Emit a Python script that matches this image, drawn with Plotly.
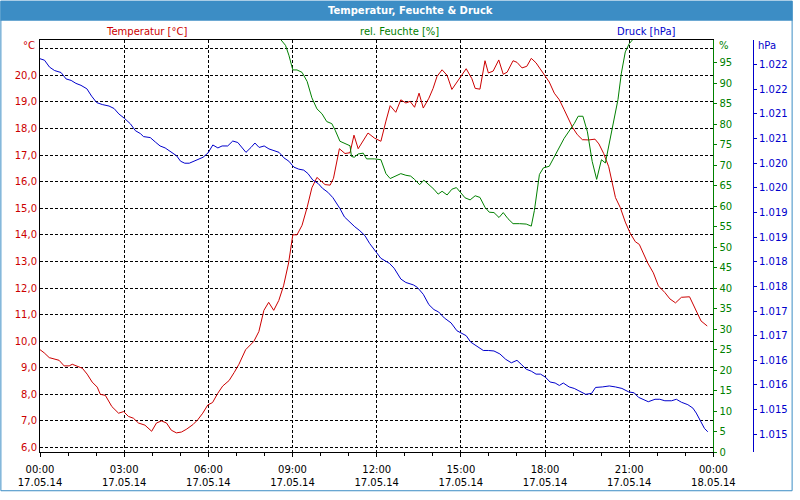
import pandas as pd
import plotly.graph_objects as go

# ---------------- data ----------------
temp_hours = [
    0, 0.15, 0.33, 0.56, 0.68, 0.86, 1.04, 1.15, 1.33, 1.51,
    1.68, 1.86, 2.04, 2.15, 2.33, 2.56, 2.8, 2.98, 3.15, 3.33,
    3.51, 3.74, 3.98, 4.15, 4.33, 4.51, 4.68, 4.86, 5.04, 5.21,
    5.45, 5.62, 5.8, 5.98, 6.15, 6.33, 6.51, 6.74, 6.92, 7.09,
    7.33, 7.62, 7.8, 7.98, 8.15, 8.33, 8.51, 8.68, 8.86, 9.01,
    9.16, 9.34, 9.52, 9.69, 9.87, 10.05, 10.16, 10.34, 10.46, 10.67,
    10.87, 11.05, 11.19, 11.34, 11.69, 11.92, 12.15, 12.33, 12.48, 12.68,
    12.86, 13.04, 13.19, 13.35, 13.51, 13.66, 13.86, 14.01, 14.15, 14.33,
    14.51, 14.68, 14.92, 15.19, 15.39, 15.51, 15.68, 15.86, 15.98, 16.15,
    16.35, 16.51, 16.65, 16.86, 17.0, 17.18, 17.35, 17.51, 17.68, 17.86,
    18.01, 18.15, 18.33, 18.51, 18.68, 18.86, 18.98, 19.15, 19.33, 19.56,
    19.78, 19.92, 20.09, 20.27, 20.39, 20.51, 20.68, 20.86, 21.04, 21.22,
    21.36, 21.51, 21.66, 21.86, 22.04, 22.27, 22.45, 22.65, 22.86, 23.15,
    23.33, 23.56, 23.78,
]
temperature = [
    9.68, 9.56, 9.38, 9.32, 9.28, 9.07, 9.07, 9.13, 9.06, 8.98,
    8.76, 8.46, 8.27, 8.0, 7.96, 7.54, 7.29, 7.35, 7.17, 7.1,
    6.92, 6.84, 6.61, 6.92, 7.0, 6.92, 6.65, 6.55, 6.58, 6.68,
    6.86, 7.04, 7.29, 7.6, 7.69, 8.03, 8.31, 8.52, 8.82, 9.13,
    9.68, 9.99, 10.36, 11.16, 11.46, 11.16, 11.53, 12.08, 12.94, 14.0,
    14.0, 14.36, 15.03, 15.77, 16.16, 16.0, 15.89, 15.87, 16.13, 17.24,
    17.06, 17.09, 17.75, 17.24, 17.83, 17.64, 17.52, 18.28, 18.86, 18.61,
    19.08, 18.96, 19.02, 18.8, 19.33, 18.77, 19.14, 19.51, 19.96, 20.21,
    20.0, 19.47, 19.82, 20.25, 19.88, 19.51, 19.48, 20.55, 20.09, 20.16,
    20.58, 20.04, 20.12, 20.55, 20.49, 20.28, 20.34, 20.64, 20.47, 20.18,
    19.98, 19.75, 19.33, 19.08, 18.71, 18.28, 18.04, 17.77, 17.58, 17.57,
    17.6, 17.42, 17.06, 16.56, 16.01, 15.4, 15.03, 14.48, 14.05, 13.74,
    13.64, 13.31, 12.94, 12.57, 12.08, 11.83, 11.59, 11.44, 11.65, 11.67,
    11.28, 10.76, 10.57,
]

hum_hours = [
    8.45, 8.58, 8.75, 8.87, 9.01, 9.16, 9.34, 9.52, 9.69, 9.87,
    10.05, 10.22, 10.4, 10.52, 10.69, 10.87, 11.05, 11.1, 11.2, 11.34,
    11.52, 11.64, 11.92, 12.15, 12.33, 12.48, 12.68, 12.86, 13.04, 13.21,
    13.35, 13.53, 13.68, 13.86, 14.04, 14.19, 14.33, 14.51, 14.68, 14.84,
    15.0, 15.15, 15.33, 15.51, 15.68, 15.86, 16.01, 16.18, 16.36, 16.51,
    16.68, 16.86, 17.09, 17.33, 17.51, 17.62, 17.8, 17.94, 18.15, 18.33,
    18.51, 18.68, 18.86, 19.04, 19.18, 19.35, 19.51, 19.68, 19.84, 20.01,
    20.15, 20.29, 20.45, 20.6, 20.72, 20.86, 21.0, 21.15, 21.3,
]
humidity = [
    102, 100.6, 99.2, 96.8, 93.2, 93.2, 92.6, 90.4, 86.4, 83.7,
    82.5, 80.6, 80.1, 78.5, 75.8, 75.3, 74.7, 72.1, 71.9, 72.7,
    72.9, 71.5, 71.5, 71.3, 67.9, 66.7, 67.3, 67.9, 67.5, 67.3,
    66.5, 65.2, 66.3, 65.3, 64.1, 62.9, 63.6, 62.7, 64.1, 64.5,
    63.3, 62.0, 61.5, 62.5, 62.1, 59.7, 58.5, 58.4, 57.2, 58.4,
    56.9, 55.7, 55.7, 55.6, 55.1, 58.9, 67.7, 69.3, 69.7, 72.1,
    74.5, 76.5, 78.3, 80.1, 81.9, 81.9, 78.1, 70.9, 66.5, 71.3,
    70.5, 75.3, 80.5, 86.0, 92.4, 97.6, 99.6, 100.8, 102,
]

pres_hours = [
    0, 0.16, 0.34, 0.52, 0.75, 0.93, 1.11, 1.28, 1.46, 1.67,
    1.84, 2.02, 2.22, 2.46, 2.64, 2.81, 3.01, 3.22, 3.4, 3.58,
    3.69, 3.93, 4.11, 4.28, 4.46, 4.69, 4.87, 5.01, 5.16, 5.32,
    5.48, 5.64, 5.81, 5.99, 6.16, 6.34, 6.49, 6.69, 6.87, 7.05,
    7.19, 7.34, 7.52, 7.66, 7.81, 7.99, 8.16, 8.34, 8.52, 8.69,
    8.87, 9.05, 9.22, 9.4, 9.55, 9.72, 9.91, 10.07, 10.26, 10.44,
    10.58, 10.69, 10.85, 11.05, 11.22, 11.4, 11.58, 11.75, 11.98, 12.15,
    12.45, 12.62, 12.86, 13.04, 13.31, 13.45, 13.66, 13.86, 14.04, 14.21,
    14.41, 14.65, 14.86, 15.04, 15.19, 15.35, 15.56, 15.8, 15.98, 16.18,
    16.39, 16.6, 16.8, 17.0, 17.15, 17.33, 17.51, 17.68, 17.84, 18.01,
    18.18, 18.36, 18.51, 18.65, 18.86, 19.04, 19.21, 19.45, 19.66, 19.8,
    20.04, 20.29, 20.51, 20.74, 20.98, 21.18, 21.33, 21.51, 21.68, 21.92,
    22.09, 22.27, 22.51, 22.68, 22.86, 23.09, 23.27, 23.39, 23.56, 23.68,
    23.8,
]
pressure = [
    1022.37, 1022.34, 1022.20, 1022.13, 1022.09, 1021.96, 1021.93, 1021.87, 1021.83, 1021.76,
    1021.61, 1021.48, 1021.44, 1021.41, 1021.36, 1021.25, 1021.16, 1021.05, 1020.91, 1020.85,
    1020.79, 1020.77, 1020.68, 1020.60, 1020.56, 1020.48, 1020.40, 1020.29, 1020.25, 1020.25,
    1020.29, 1020.34, 1020.37, 1020.46, 1020.62, 1020.56, 1020.60, 1020.60, 1020.70, 1020.67,
    1020.58, 1020.47, 1020.57, 1020.66, 1020.57, 1020.60, 1020.54, 1020.50, 1020.47, 1020.36,
    1020.29, 1020.17, 1020.13, 1020.11, 1020.04, 1019.91, 1019.84, 1019.74, 1019.66, 1019.55,
    1019.43, 1019.33, 1019.16, 1019.05, 1018.96, 1018.88, 1018.78, 1018.62, 1018.45, 1018.32,
    1018.22, 1018.12, 1017.90, 1017.83, 1017.78, 1017.73, 1017.59, 1017.38, 1017.28, 1017.23,
    1017.11, 1017.01, 1016.85, 1016.79, 1016.75, 1016.62, 1016.54, 1016.45, 1016.45, 1016.44,
    1016.38, 1016.27, 1016.20, 1016.25, 1016.17, 1016.07, 1016.03, 1015.97, 1015.97, 1015.91,
    1015.81, 1015.79, 1015.74, 1015.79, 1015.71, 1015.68, 1015.63, 1015.56, 1015.58, 1015.70,
    1015.71, 1015.73, 1015.71, 1015.68, 1015.61, 1015.59, 1015.50, 1015.45, 1015.41, 1015.46,
    1015.46, 1015.43, 1015.43, 1015.46, 1015.40, 1015.35, 1015.28, 1015.18, 1014.99, 1014.87,
    1014.80,
]

x_tick_hours = [0, 3, 6, 9, 12, 15, 18, 21, 24]
temp_ticks = [6, 7, 8, 9, 10, 11, 12, 13, 14, 15, 16, 17, 18, 19, 20, 21]
hum_ticks = list(range(0, 100, 5))
pres_ticks = [1022.25 - 0.5 * k for k in range(16)]

title_text = "Temperatur, Feuchte & Druck"
series_labels = ["Temperatur [°C]", "rel. Feuchte [%]", "Druck [hPa]"]
unit_labels = ["°C", "%", "hPa"]

# ---------------- styling ----------------
RED = "#CC0000"
GREEN = "#008000"
BLUE = "#0000CC"
FRAME = "#3C8DC5"
FONT = "DejaVu Sans"

base = pd.Timestamp("2014-05-17 00:00")


def to_time(hours):
    return [base + pd.Timedelta(hours=h) for h in hours]


# pixel -> paper helpers. paper area spans x 40..760, y 40..460;
# the main plot (x axis domain) spans x 40..720.
PX0, PX1, Y0, Y1 = 40, 760, 40, 460
PLOT_RIGHT = 720


def px(x):
    return (x - PX0) / (PX1 - PX0)


def py(y):
    return (Y1 - y) / (Y1 - Y0)


fig = go.Figure()
fig.add_trace(go.Scatter(x=to_time(temp_hours), y=temperature, mode="lines",
                         line=dict(color=RED, width=1), yaxis="y", name=series_labels[0]))
fig.add_trace(go.Scatter(x=to_time(hum_hours), y=humidity, mode="lines",
                         line=dict(color=GREEN, width=1), yaxis="y2", name=series_labels[1]))
fig.add_trace(go.Scatter(x=to_time(pres_hours), y=pressure, mode="lines",
                         line=dict(color=BLUE, width=1), yaxis="y3", name=series_labels[2]))

x_tickvals = [base + pd.Timedelta(hours=h) for h in x_tick_hours]
x_ticktext = [f"{t:%H:%M}<br>{t:%d.%m.%y}" for t in x_tickvals]

temp_text = [("" if v == 21 else f"{v:.1f}".replace(".", ",")) for v in temp_ticks]
pres_text = [f"{round(v):,}".replace(",", ".") for v in pres_ticks]

fig.update_layout(
    width=800, height=500,
    margin=dict(l=PX0, r=800 - PX1, t=Y0, b=500 - Y1, pad=0),
    paper_bgcolor="white", plot_bgcolor="white",
    showlegend=False,
    font=dict(family=FONT, size=10, color="black"),
    xaxis=dict(
        type="date", domain=[0, px(PLOT_RIGHT)],
        range=[base, base + pd.Timedelta(hours=24)],
        tickvals=x_tickvals, ticktext=x_ticktext,
        showgrid=True, gridcolor="black", gridwidth=1, griddash="3px,2px",
        showline=True, linecolor="black", linewidth=1, mirror=True,
        ticks="outside", ticklen=4, tickcolor="black",
        minor=dict(dtick=3600000, ticks="outside", ticklen=3, tickcolor="black", showgrid=False),
        tickfont=dict(color="black", size=10),
        ticklabelstandoff=4,
        zeroline=False,
    ),
    yaxis=dict(
        range=[5.83, 21.33],
        tickvals=temp_ticks, ticktext=temp_text,
        showgrid=True, gridcolor="black", gridwidth=1, griddash="3px,2px",
        showline=True, linecolor="black", linewidth=1,
        ticks="", tickfont=dict(color=RED, size=10),
        zeroline=False,
    ),
    yaxis2=dict(
        overlaying="y", side="right", anchor="x",
        range=[0, 100.5],
        tickvals=hum_ticks, ticktext=[str(v) for v in hum_ticks],
        showgrid=False, zeroline=False,
        showline=True, linecolor=GREEN, linewidth=1,
        ticks="outside", ticklen=3, tickcolor=GREEN,
        tickfont=dict(color=GREEN, size=10),
    ),
    yaxis3=dict(
        overlaying="y", side="right", anchor="free", position=1.0,
        range=[1014.39, 1022.75],
        tickvals=pres_ticks, ticktext=pres_text,
        showgrid=False, zeroline=False,
        showline=True, linecolor=BLUE, linewidth=1,
        ticks="outside", ticklen=3, tickcolor=BLUE,
        tickfont=dict(color=BLUE, size=10),
    ),
)

shapes = [
    dict(type="rect", xref="paper", yref="paper",
         x0=px(0), x1=px(800), y0=py(20.5), y1=py(0),
         fillcolor=FRAME, line=dict(width=0), layer="above"),
    dict(type="rect", xref="paper", yref="paper",
         x0=px(0.5), x1=px(799.5), y0=py(499.5), y1=py(0.5),
         fillcolor="rgba(0,0,0,0)", line=dict(color=FRAME, width=1), layer="above"),
]
fig.update_layout(shapes=shapes)

ann = []
ann.append(dict(text=f"<b>{title_text}</b>", x=px(414), y=py(10), xref="paper", yref="paper",
                showarrow=False, xanchor="center", yanchor="middle",
                font=dict(color="white", size=10, family=FONT)))
for lbl, cx, col in zip(series_labels, [148, 403, 652], [RED, GREEN, BLUE]):
    ann.append(dict(text=lbl, x=px(cx), y=py(31), xref="paper", yref="paper",
                    showarrow=False, xanchor="center", yanchor="middle",
                    font=dict(color=col, size=10, family=FONT)))
ann.append(dict(text=unit_labels[0], x=px(37), y=py(46), xref="paper", yref="paper",
                showarrow=False, xanchor="right", yanchor="middle",
                font=dict(color=RED, size=10, family=FONT)))
ann.append(dict(text=unit_labels[1], x=px(724), y=py(46), xref="paper", yref="paper",
                showarrow=False, xanchor="left", yanchor="middle",
                font=dict(color=GREEN, size=10, family=FONT)))
ann.append(dict(text=unit_labels[2], x=px(763), y=py(46), xref="paper", yref="paper",
                showarrow=False, xanchor="left", yanchor="middle",
                font=dict(color=BLUE, size=10, family=FONT)))
fig.update_layout(annotations=ann)

fig.write_html("out.html")
